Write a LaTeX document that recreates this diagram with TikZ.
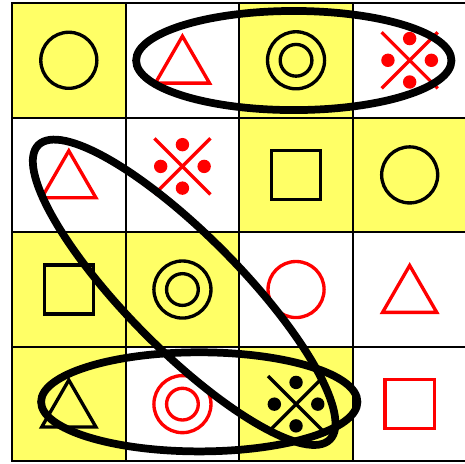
\documentclass[tikz,border=0pt]{standalone}
\usetikzlibrary{shapes.geometric}
\definecolor{cellYellow}{HTML}{FFFF66}
\definecolor{symRed}{HTML}{FF0000}
\definecolor{symBlack}{HTML}{000000}

\begin{document}
\begin{tikzpicture}[
  x=2.27cm, y=2.29cm,
  cell/.style={
    rectangle,
    draw=black,
    fill=#1,
    line width=1.1pt,
    minimum width=2.27cm,
    minimum height=2.29cm,
    inner sep=0pt
  },
  cell/.default=white,
  ring/.style={
    circle,
    draw=#1,
    line width=1.9pt,
    minimum size=1.12cm,
    inner sep=0pt
  },
  target/.style={
    ring=#1,
    minimum size=1.14cm,
    path picture={
      \draw[#1, line width=1.9pt] (path picture bounding box.center) circle (0.317cm);
    }
  },
  box/.style={
    rectangle,
    draw=#1,
    line width=1.9pt,
    minimum size=0.98cm,
    inner sep=0pt
  },
  tri/.style={
    regular polygon,
    regular polygon sides=3,
    draw=#1,
    line width=1.9pt,
    minimum size=1.25cm,
    inner sep=0pt,
    yshift=-0.144cm
  },
  dotcross/.style={
    rectangle,
    minimum size=1.3cm,
    inner sep=0pt,
    path picture={
      \draw[#1, line width=1.9pt]
        ([shift={(-0.56cm,0.56cm)}]path picture bounding box.center) -- ++(1.12cm,-1.12cm)
        ([shift={(-0.56cm,-0.56cm)}]path picture bounding box.center) -- ++(1.12cm,1.12cm);
      \fill[#1] ([yshift=0.434cm]path picture bounding box.center) circle (0.134cm);
      \fill[#1] ([yshift=-0.434cm]path picture bounding box.center) circle (0.134cm);
      \fill[#1] ([xshift=0.434cm]path picture bounding box.center) circle (0.134cm);
      \fill[#1] ([xshift=-0.434cm]path picture bounding box.center) circle (0.134cm);
    }
  },
  bundle/.style={
    ellipse,
    draw=black,
    line width=4.4pt,
    inner sep=0pt
  }
]
  \useasboundingbox (-0.1057,-0.0175) rectangle (3.987,4.026);

  % Cells
  \node[cell=cellYellow] (c00) at (0.5,3.5) {};
  \node[cell]            (c01) at (1.5,3.5) {};
  \node[cell=cellYellow] (c02) at (2.5,3.5) {};
  \node[cell]            (c03) at (3.5,3.5) {};

  \node[cell]            (c10) at (0.5,2.5) {};
  \node[cell]            (c11) at (1.5,2.5) {};
  \node[cell=cellYellow] (c12) at (2.5,2.5) {};
  \node[cell=cellYellow] (c13) at (3.5,2.5) {};

  \node[cell=cellYellow] (c20) at (0.5,1.5) {};
  \node[cell=cellYellow] (c21) at (1.5,1.5) {};
  \node[cell]            (c22) at (2.5,1.5) {};
  \node[cell]            (c23) at (3.5,1.5) {};

  \node[cell=cellYellow] (c30) at (0.5,0.5) {};
  \node[cell]            (c31) at (1.5,0.5) {};
  \node[cell=cellYellow] (c32) at (2.5,0.5) {};
  \node[cell]            (c33) at (3.5,0.5) {};

  % Symbols
  \node[ring=symBlack]     (s00) at (c00) {};
  \node[tri=symRed]        (s01) at (c01) {};
  \node[target=symBlack]   (s02) at (c02) {};
  \node[dotcross=symRed]   (s03) at (c03) {};

  \node[tri=symRed]        (s10) at (c10) {};
  \node[dotcross=symRed, yshift=0.17cm] (s11) at (c11) {};
  \node[box=symBlack]      (s12) at (c12) {};
  \node[ring=symBlack]     (s13) at (c13) {};

  \node[box=symBlack]      (s20) at (c20) {};
  \node[target=symBlack]   (s21) at (c21) {};
  \node[ring=symRed]       (s22) at (c22) {};
  \node[tri=symRed]        (s23) at (c23) {};

  \node[tri=symBlack]      (s30) at (c30) {};
  \node[target=symRed]     (s31) at (c31) {};
  \node[dotcross=symBlack] (s32) at (c32) {};
  \node[box=symRed]        (s33) at (c33) {};

  % Groupings
  \node[bundle, minimum width=6.3cm, minimum height=1.98cm] (top) at (2.48,3.498) {};
  \node[bundle, minimum width=6.32cm, minimum height=1.98cm] (bottom) at (1.648,0.52) {};
  \node[bundle, minimum width=8.28cm, minimum height=2.28cm, rotate=-45.3] (diag) at (1.515,1.476) {};
\end{tikzpicture}
\end{document}
